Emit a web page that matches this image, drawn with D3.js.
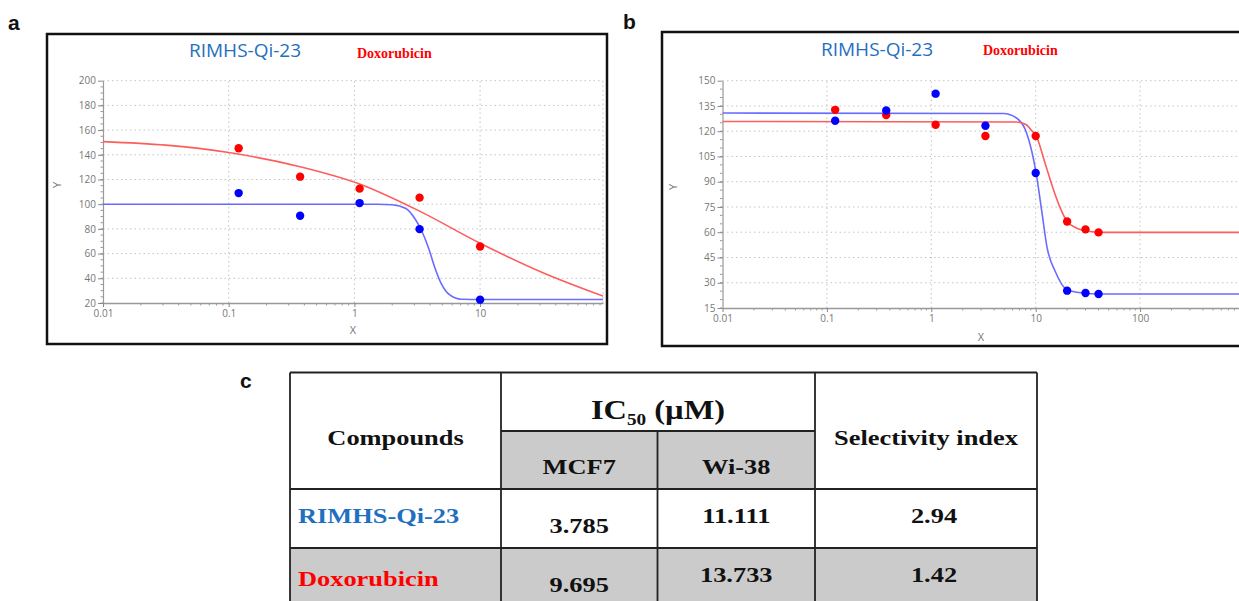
<!DOCTYPE html>
<html lang="en">
<head>
<meta charset="utf-8">
<title>IC50 curves</title>
<script src="https://cdnjs.cloudflare.com/ajax/libs/d3/7.8.5/d3.min.js"></script>
<style>
  body { margin: 0; background: #fff; }
  .tick text { fill: #777; font-family: "Open Sans", sans-serif; font-size: 10px; }
  .tick line { stroke: #888; }
  .domain { stroke: #999; }
</style>
</head>
<body>
<div id="chart"></div>
<script>
// ---- data ----
const xTicks = [0.01, 0.1, 1, 10, 100];
const yTicksA = [20, 40, 60, 80, 100, 120, 140, 160, 180, 200];
const yTicksB = [15, 30, 45, 60, 75, 90, 105, 120, 135, 150];

// panel a (MCF7)
const concA = [0.12, 0.37, 1.1, 3.3, 10];
const rimhsA = [109, 90.6, 100.9, 79.8, 22.7];
const doxA = [145.3, 122.3, 112.6, 105.3, 65.7];
// fitted curves
const fitA_rimhsX = [0.01, 1.5, 2.0, 2.57, 3.04, 3.39, 3.89, 4.35, 4.92, 5.74, 7.1, 10, 95];
const fitA_rimhsY = [100, 100, 99.6, 96.5, 88, 79.5, 64.5, 49, 35.5, 26.5, 23, 22.8, 22.8];
const fitA_doxX = [0.01, 0.0316, 0.1, 0.37, 1.1, 3.3, 10, 31.6, 95];
const fitA_doxY = [150.7, 147.8, 141.8, 130.4, 116.4, 94.4, 68.4, 44.5, 25.6];

// panel b (Wi-38)
const concB = [0.12, 0.37, 1.1, 3.3, 10, 20, 30, 40];
const rimhsB = [126.2, 132.3, 142.3, 123.2, 95.2, 25.3, 23.9, 23.3];
const doxB = [132.7, 129.6, 123.8, 117.2, 117.2, 66.4, 61.7, 59.9];
const fitB_rimhsX = [0.01, 4.9, 6.6, 8.2, 10.1, 11.5, 12.8, 15.4, 20, 28.7, 40, 1000];
const fitB_rimhsY = [130.8, 130.5, 127.7, 118.8, 95.1, 71.3, 51.5, 36.7, 25.9, 23.9, 23.3, 23.3];
const fitB_doxX = [0.01, 6.6, 8.2, 9, 10.1, 12.3, 14.8, 17.2, 20, 24.8, 33.3, 45, 1000];
const fitB_doxY = [125.8, 125.5, 123.7, 120.8, 117.2, 101, 85.2, 74.3, 66.4, 62.4, 60.4, 59.9, 59.9];

// table c
const compounds = ["RIMHS-Qi-23", "Doxorubicin"];
const mcf7 = ["3.785", "9.695"];
const wi38 = ["11.111", "13.733"];
const selIndex = ["2.94", "1.42"];

const BLUE_TXT = "#1f70c1", RED_TXT = "#ff0000";
const W = 1239, H = 601;

const svg = d3.select("#chart").append("svg")
  .attr("width", W).attr("height", H)
  .style("display", "block");
svg.append("rect").attr("width", W).attr("height", H).attr("fill", "#fff");

function panel(opt) {
  const g = svg.append("g");
  const x = d3.scaleLog().domain(opt.xDomain).range(opt.xRange);
  const y = d3.scaleLinear().domain(opt.yDomain).range(opt.yRange);
  const [x0, x1] = opt.xRange;
  const [yb, yt] = opt.yRange;

  // frame
  g.append("rect")
    .attr("x", opt.frame[0]).attr("y", opt.frame[1])
    .attr("width", opt.frame[2]).attr("height", opt.frame[3])
    .attr("fill", "none").attr("stroke", "#111").attr("stroke-width", 2.5);

  // dotted grid
  const grid = g.append("g").attr("stroke", "#c4c4c4").attr("stroke-dasharray", "1.5,3");
  grid.selectAll(".gy").data(opt.yTicks.slice(1)).enter().append("line")
    .attr("x1", x0).attr("x2", x1)
    .attr("y1", d => y(d)).attr("y2", d => y(d));
  grid.selectAll(".gx").data(xTicks.filter(d => x(d) > x0 + 1 && x(d) < x1)).enter().append("line")
    .attr("y1", yb).attr("y2", yt)
    .attr("x1", d => x(d)).attr("x2", d => x(d));
  if (opt.rightGrid) {
    grid.append("line").attr("x1", x1).attr("x2", x1).attr("y1", yb).attr("y2", yt);
  }

  // minor ticks
  const minorX = [];
  for (let e = -2; e < 3; e++) for (let k = 2; k < 10; k++) {
    const v = k * Math.pow(10, e);
    if (x(v) < x1) minorX.push(v);
  }
  g.append("g").selectAll("line").data(minorX).enter().append("line")
    .attr("x1", d => x(d)).attr("x2", d => x(d))
    .attr("y1", yb).attr("y2", yb + 2.5)
    .attr("stroke", "#999");
  const minorY = d3.range(opt.yDomain[0], opt.yDomain[1], 5);
  g.append("g").selectAll("line").data(minorY).enter().append("line")
    .attr("x1", x0 - 2.5).attr("x2", x0)
    .attr("y1", d => y(d)).attr("y2", d => y(d))
    .attr("stroke", "#999");

  // axes
  g.append("g")
    .attr("transform", "translate(0," + yb + ")")
    .call(d3.axisBottom(x).tickValues(xTicks.filter(d => x(d) <= x1 + 0.5))
      .tickFormat(d => String(d)).tickSize(4).tickSizeOuter(0))
    .call(a => a.select(".domain").attr("stroke", "#888").attr("stroke-width", 1.5));
  g.append("g")
    .attr("transform", "translate(" + x0 + ",0)")
    .call(d3.axisLeft(y).tickValues(opt.yTicks).tickSize(5).tickSizeOuter(0).tickPadding(2))
    .call(a => a.select(".domain").attr("stroke", "#888").attr("stroke-width", 1.2));

  g.append("text").attr("x", opt.xLab[0]).attr("y", opt.xLab[1])
    .attr("text-anchor", "middle").attr("fill", "#777")
    .style("font-family", "Open Sans, sans-serif").style("font-size", "11px").text("X");
  g.append("text")
    .attr("transform", "translate(" + opt.yLab[0] + "," + opt.yLab[1] + ") rotate(-90)")
    .attr("text-anchor", "middle").attr("fill", "#777")
    .style("font-family", "Open Sans, sans-serif").style("font-size", "11px").text("Y");

  // curves
  const clipId = "clip" + opt.id;
  g.append("clipPath").attr("id", clipId).append("rect")
    .attr("x", x0).attr("y", yt - 2).attr("width", x1 - x0).attr("height", yb - yt + 2);
  const line = d3.line().x(d => x(d[0])).y(d => y(d[1])).curve(d3.curveMonotoneX);
  const curves = g.append("g").attr("clip-path", "url(#" + clipId + ")").attr("fill", "none");
  curves.append("path").datum(d3.zip(opt.fitRx, opt.fitRy))
    .attr("d", line).attr("stroke", "#6b6bff").attr("stroke-width", 1.6);
  curves.append("path").datum(d3.zip(opt.fitDx, opt.fitDy))
    .attr("d", line).attr("stroke", "#ff5c5c").attr("stroke-width", 1.6);

  // points
  g.append("g").selectAll("circle").data(d3.zip(opt.conc, opt.dox)).enter().append("circle")
    .attr("cx", d => x(d[0])).attr("cy", d => y(d[1])).attr("r", 4.2).attr("fill", "#ff0000");
  g.append("g").selectAll("circle").data(d3.zip(opt.conc, opt.rimhs)).enter().append("circle")
    .attr("cx", d => x(d[0])).attr("cy", d => y(d[1])).attr("r", 4.2).attr("fill", "#0000ff");

  // legend titles
  g.append("text").attr("x", opt.t1[0]).attr("y", opt.t1[1])
    .attr("fill", BLUE_TXT).style("font-family", "Open Sans, sans-serif").style("font-size", "19px")
    .text("RIMHS-Qi-23");
  g.append("text").attr("x", opt.t2[0]).attr("y", opt.t2[1])
    .attr("fill", RED_TXT).style("font-family", "Liberation Serif, serif").style("font-weight", "bold")
    .style("font-size", "14px").text("Doxorubicin");

  g.append("text").attr("x", opt.tag[0]).attr("y", opt.tag[1])
    .style("font-family", "Liberation Sans, Arial, sans-serif").style("font-weight", "bold")
    .style("font-size", "21px").attr("fill", "#111").text(opt.tagText);
}

panel({
  id: "a", tagText: "a", tag: [8, 30],
  frame: [47, 34, 560, 310],
  xDomain: [0.01, 95], xRange: [103, 603],
  yDomain: [20, 200], yRange: [303, 80.7], yTicks: yTicksA,
  rightGrid: true,
  conc: concA, rimhs: rimhsA, dox: doxA,
  fitRx: fitA_rimhsX, fitRy: fitA_rimhsY, fitDx: fitA_doxX, fitDy: fitA_doxY,
  xLab: [353, 334], yLab: [61, 185],
  t1: [189, 57], t2: [357, 58]
});

panel({
  id: "b", tagText: "b", tag: [623, 29],
  frame: [662, 32, 620, 314],
  xDomain: [0.01, 1000], xRange: [722.5, 1244.5],
  yDomain: [15, 150], yRange: [308, 80.7], yTicks: yTicksB,
  rightGrid: false,
  conc: concB, rimhs: rimhsB, dox: doxB,
  fitRx: fitB_rimhsX, fitRy: fitB_rimhsY, fitDx: fitB_doxX, fitDy: fitB_doxY,
  xLab: [981, 341], yLab: [677, 187],
  t1: [821, 56], t2: [983, 55]
});

// ---- table c ----
const cols = [290, 501, 657.5, 815, 1037];
const rows = [372.5, 431, 489, 548, 601];
const tg = svg.append("g");
tg.append("rect").attr("x", cols[1]).attr("y", rows[1])
  .attr("width", cols[3] - cols[1]).attr("height", rows[2] - rows[1]).attr("fill", "#cbcbcb");
tg.append("rect").attr("x", cols[0]).attr("y", rows[3])
  .attr("width", cols[4] - cols[0]).attr("height", rows[4] - rows[3] + 2).attr("fill", "#cbcbcb");

const rules = [
  [cols[0], rows[0], cols[4], rows[0]],
  [cols[0], rows[2], cols[4], rows[2]],
  [cols[0], rows[3], cols[4], rows[3]],
  [cols[1], rows[1], cols[3], rows[1]],
  [cols[0], rows[0], cols[0], H],
  [cols[1], rows[0], cols[1], H],
  [cols[2], rows[1], cols[2], H],
  [cols[3], rows[0], cols[3], H],
  [cols[4], rows[0], cols[4], H]
];
tg.selectAll("line").data(rules).enter().append("line")
  .attr("x1", d => d[0]).attr("y1", d => d[1]).attr("x2", d => d[2]).attr("y2", d => d[3])
  .attr("stroke", "#222").attr("stroke-width", 1.8);

function cellText(txt, cx, cy, opt) {
  opt = opt || {};
  const t = tg.append("text")
    .attr("transform", "translate(" + cx + "," + cy + ") scale(1.2,1)")
    .attr("text-anchor", opt.anchor || "middle")
    .attr("fill", opt.color || "#111")
    .style("font-family", "Liberation Serif, Times New Roman, serif")
    .style("font-weight", "bold")
    .style("font-size", (opt.size || 22) + "px");
  if (opt.sub) {
    t.append("tspan").text("IC");
    t.append("tspan").attr("dy", 6).style("font-size", "16px").text("50");
    t.append("tspan").attr("dy", -6).text(" (\u00b5M)");
  } else {
    t.text(txt);
  }
  return t;
}

cellText("Compounds", (cols[0] + cols[1]) / 2, 445);
cellText("", (cols[1] + cols[3]) / 2, 419, { sub: true, size: 27 });
cellText("MCF7", (cols[1] + cols[2]) / 2, 474);
cellText("Wi-38", (cols[2] + cols[3]) / 2, 474);
cellText("Selectivity index", (cols[3] + cols[4]) / 2, 445);

const rowBase = [[523, 533, 523, 523], [586, 592, 582, 582]];
const nameCol = [BLUE_TXT, RED_TXT];
compounds.forEach((c, i) => {
  cellText(c, 298, rowBase[i][0], { anchor: "start", color: nameCol[i] });
  cellText(mcf7[i], (cols[1] + cols[2]) / 2, rowBase[i][1]);
  cellText(wi38[i], (cols[2] + cols[3]) / 2, rowBase[i][2]);
  cellText(selIndex[i], (cols[3] + cols[4]) / 2 + 8, rowBase[i][3]);
});

tg.append("text").attr("x", 240).attr("y", 388)
  .style("font-family", "Liberation Sans, Arial, sans-serif").style("font-weight", "bold")
  .style("font-size", "21px").attr("fill", "#111").text("c");
</script>
</body>
</html>
